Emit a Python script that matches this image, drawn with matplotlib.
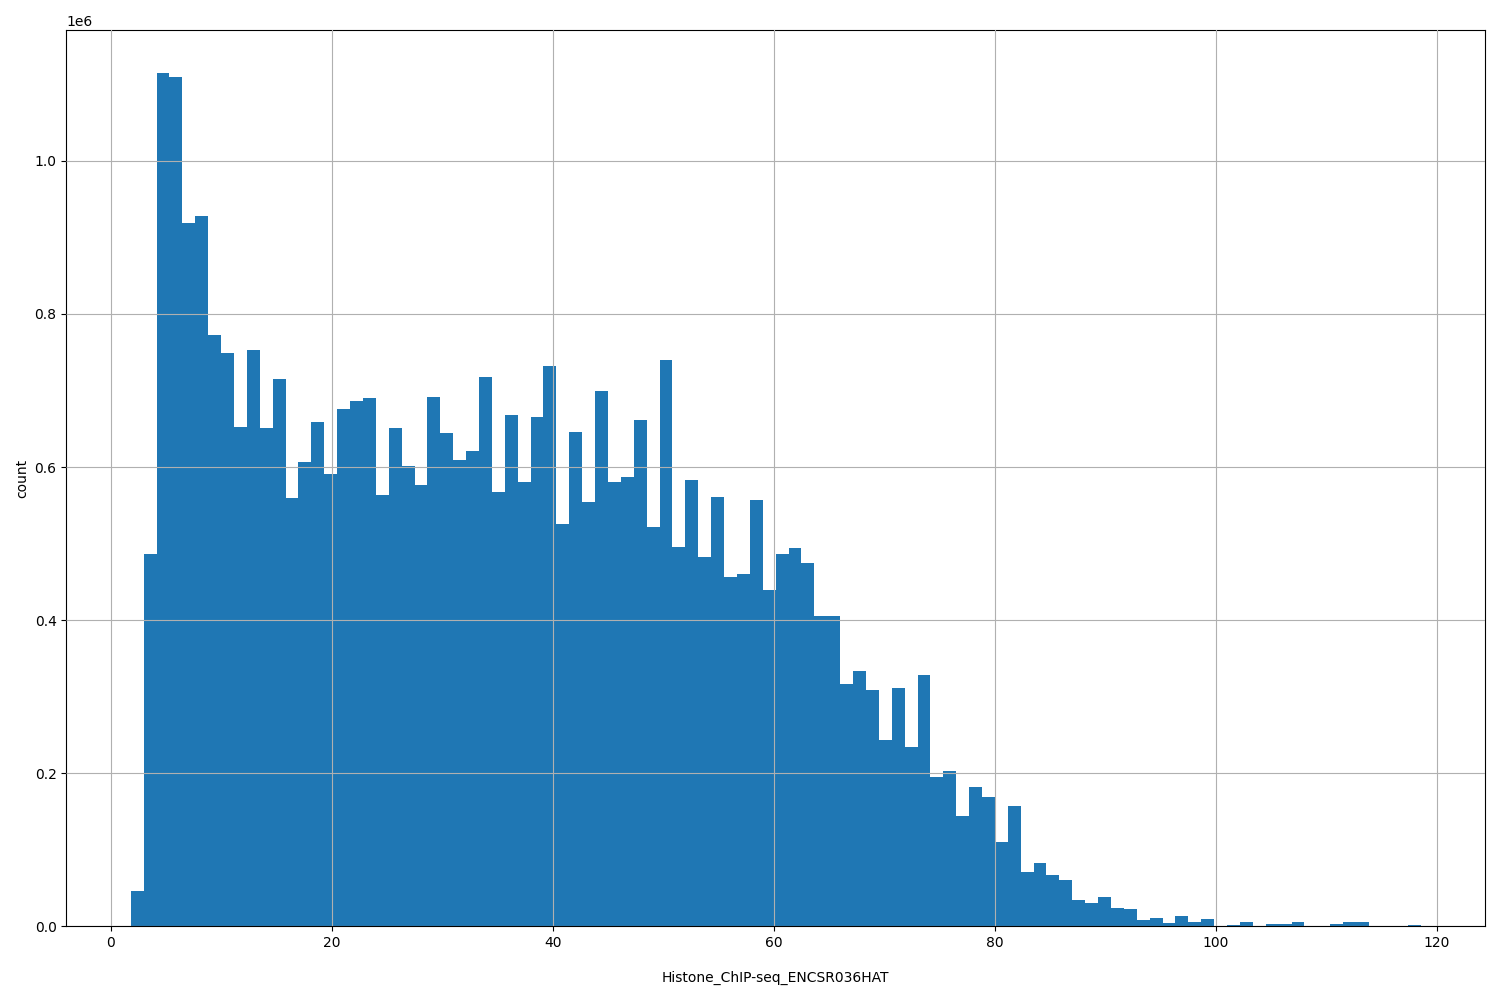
import numpy as np
import matplotlib
matplotlib.use("Agg")
import matplotlib.pyplot as plt

# Datenbereich und Balkenhoehen (in Millionen)
XMIN = 1.8
XMAX = 118.5
counts_m = [
    0.046, 0.487, 1.115, 1.110, 0.919, 0.928, 0.772, 0.749, 0.652, 0.753,
    0.651, 0.715, 0.559, 0.606, 0.659, 0.591, 0.676, 0.686, 0.690, 0.563,
    0.651, 0.601, 0.576, 0.691, 0.644, 0.609, 0.621, 0.718, 0.568, 0.668,
    0.580, 0.665, 0.732, 0.525, 0.646, 0.554, 0.699, 0.581, 0.587, 0.661,
    0.522, 0.740, 0.496, 0.583, 0.482, 0.561, 0.456, 0.460, 0.557, 0.439,
    0.486, 0.494, 0.474, 0.406, 0.406, 0.316, 0.333, 0.309, 0.244, 0.311,
    0.234, 0.328, 0.195, 0.203, 0.144, 0.182, 0.169, 0.110, 0.157, 0.071,
    0.083, 0.067, 0.060, 0.034, 0.031, 0.038, 0.024, 0.022, 0.008, 0.011,
    0.004, 0.013, 0.006, 0.009, 0.000, 0.002, 0.005, 0.000, 0.003, 0.003,
    0.005, 0.000, 0.000, 0.003, 0.005, 0.005, 0.000, 0.000, 0.000, 0.002,
]
counts = np.array(counts_m) * 1e6

edges = np.linspace(XMIN, XMAX, len(counts) + 1)

fig, ax = plt.subplots(figsize=(15, 10), dpi=100)
ax.hist(edges[:-1], bins=edges, weights=counts, color="#1f77b4")
ax.grid(True)
ax.set_axisbelow(False)
ax.set_xlabel("Histone_ChIP-seq_ENCSR036HAT", labelpad=15)
ax.set_ylabel("count")
plt.tight_layout()
plt.savefig("out.png")
